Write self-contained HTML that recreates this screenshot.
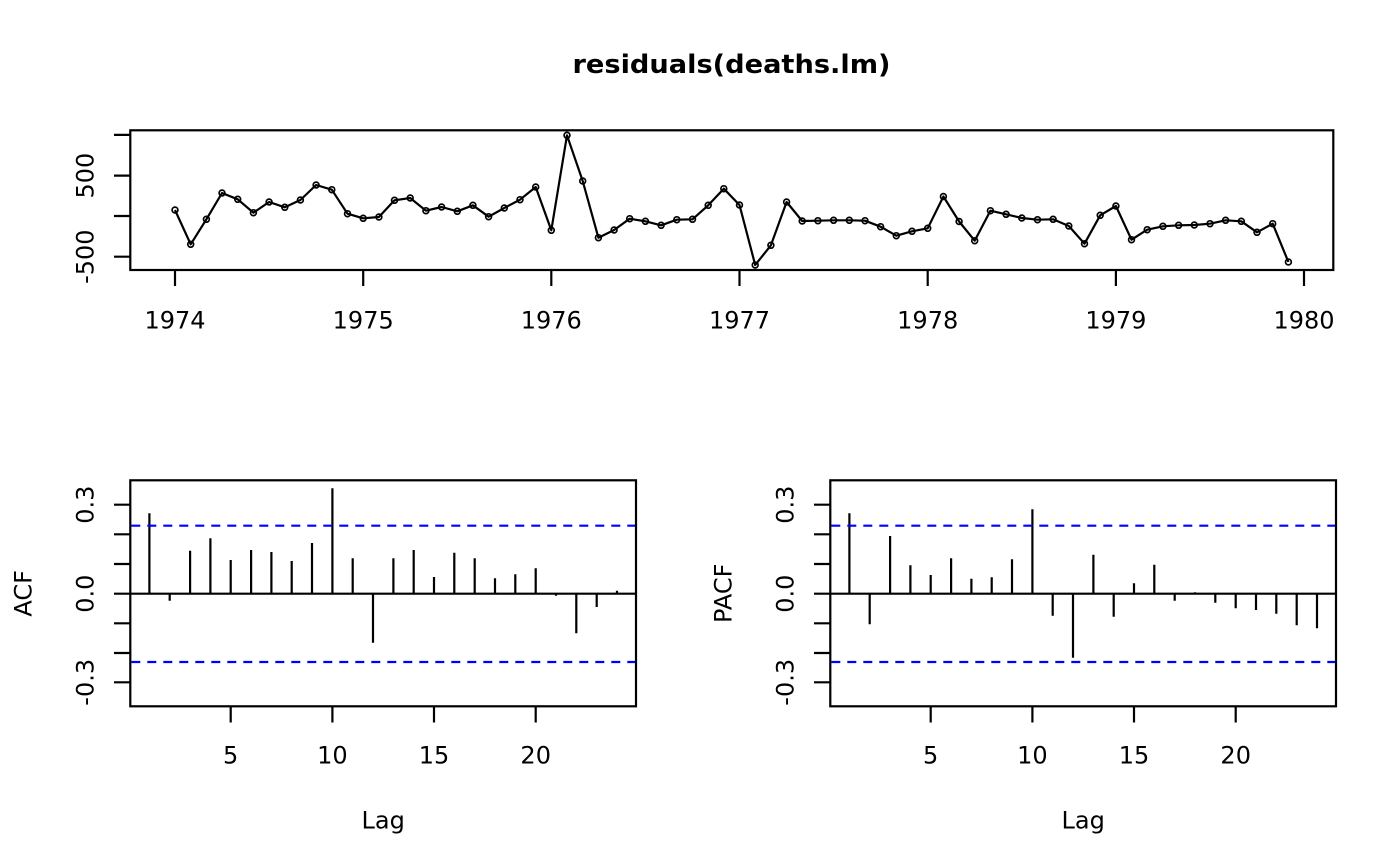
<!DOCTYPE html>
<html><head><meta charset="utf-8"><style>
html,body{margin:0;padding:0;background:#fff;}
svg{display:block;}
text{font-family:"DejaVu Sans","Liberation Sans",sans-serif;font-size:24px;fill:#000;}
</style></head><body>
<svg width="1400" height="866" viewBox="0 0 1400 866" xmlns="http://www.w3.org/2000/svg">
<rect width="1400" height="866" fill="#fff"/>
<text x="731.5" y="73" text-anchor="middle" style="font-weight:bold;font-size:26px" textLength="318" lengthAdjust="spacingAndGlyphs">residuals(deaths.lm)</text>

<g stroke="#000" stroke-width="2.2" fill="none">
<rect x="130.3" y="130.3" width="1203" height="139.7"/>
<line x1="114" y1="256.7" x2="130.3" y2="256.7"/>
<line x1="114" y1="216" x2="130.3" y2="216"/>
<line x1="114" y1="175.6" x2="130.3" y2="175.6"/>
<line x1="114" y1="134.9" x2="130.3" y2="134.9"/>
<line x1="175" y1="270" x2="175" y2="286"/>
<line x1="363.2" y1="270" x2="363.2" y2="286"/>
<line x1="551.3" y1="270" x2="551.3" y2="286"/>
<line x1="739.5" y1="270" x2="739.5" y2="286"/>
<line x1="927.7" y1="270" x2="927.7" y2="286"/>
<line x1="1115.9" y1="270" x2="1115.9" y2="286"/>
<line x1="1304" y1="270" x2="1304" y2="286"/>
<polyline stroke-linejoin="round" points="175.0,210 190.7,244.3 206.4,219.3 222.0,193 237.7,199.3 253.4,212.7 269.1,202 284.8,207.3 300.4,200 316.1,185 331.8,189.7 347.5,213.7 363.2,218.3 378.9,217 394.5,200.3 410.2,198 425.9,210.7 441.6,207 457.3,211.3 472.9,205.3 488.6,216.7 504.3,208 520.0,199.7 535.7,187 551.3,230.3 567.0,135.3 582.7,181 598.4,237.7 614.1,230 629.7,218.7 645.4,221.3 661.1,225.3 676.8,219.7 692.5,219.3 708.2,205.3 723.8,188.7 739.5,205 755.2,265 770.9,245.3 786.6,202 802.2,221 817.9,220.7 833.6,220.3 849.3,220.3 865.0,220.7 880.6,226.7 896.3,235.7 912.0,231.3 927.7,228.3 943.4,196.5 959.1,221.5 974.7,240.7 990.4,210.7 1006.1,214.3 1021.8,218 1037.5,219.7 1053.1,219.3 1068.8,226 1084.5,243.7 1100.2,215.3 1115.9,206 1131.5,239.7 1147.2,229.7 1162.9,226.3 1178.6,225.3 1194.3,225 1210.0,223.7 1225.6,220.3 1241.3,221.3 1257.0,232.3 1272.7,223.7 1288.4,262"/>
</g>
<g stroke="#000" stroke-width="1.7" fill="none">
<circle cx="175.0" cy="210" r="2.9"/><circle cx="190.7" cy="244.3" r="2.9"/><circle cx="206.4" cy="219.3" r="2.9"/><circle cx="222.0" cy="193" r="2.9"/><circle cx="237.7" cy="199.3" r="2.9"/><circle cx="253.4" cy="212.7" r="2.9"/><circle cx="269.1" cy="202" r="2.9"/><circle cx="284.8" cy="207.3" r="2.9"/><circle cx="300.4" cy="200" r="2.9"/><circle cx="316.1" cy="185" r="2.9"/><circle cx="331.8" cy="189.7" r="2.9"/><circle cx="347.5" cy="213.7" r="2.9"/>
<circle cx="363.2" cy="218.3" r="2.9"/><circle cx="378.9" cy="217" r="2.9"/><circle cx="394.5" cy="200.3" r="2.9"/><circle cx="410.2" cy="198" r="2.9"/><circle cx="425.9" cy="210.7" r="2.9"/><circle cx="441.6" cy="207" r="2.9"/><circle cx="457.3" cy="211.3" r="2.9"/><circle cx="472.9" cy="205.3" r="2.9"/><circle cx="488.6" cy="216.7" r="2.9"/><circle cx="504.3" cy="208" r="2.9"/><circle cx="520.0" cy="199.7" r="2.9"/><circle cx="535.7" cy="187" r="2.9"/>
<circle cx="551.3" cy="230.3" r="2.9"/><circle cx="567.0" cy="135.3" r="2.9"/><circle cx="582.7" cy="181" r="2.9"/><circle cx="598.4" cy="237.7" r="2.9"/><circle cx="614.1" cy="230" r="2.9"/><circle cx="629.7" cy="218.7" r="2.9"/><circle cx="645.4" cy="221.3" r="2.9"/><circle cx="661.1" cy="225.3" r="2.9"/><circle cx="676.8" cy="219.7" r="2.9"/><circle cx="692.5" cy="219.3" r="2.9"/><circle cx="708.2" cy="205.3" r="2.9"/><circle cx="723.8" cy="188.7" r="2.9"/>
<circle cx="739.5" cy="205" r="2.9"/><circle cx="755.2" cy="265" r="2.9"/><circle cx="770.9" cy="245.3" r="2.9"/><circle cx="786.6" cy="202" r="2.9"/><circle cx="802.2" cy="221" r="2.9"/><circle cx="817.9" cy="220.7" r="2.9"/><circle cx="833.6" cy="220.3" r="2.9"/><circle cx="849.3" cy="220.3" r="2.9"/><circle cx="865.0" cy="220.7" r="2.9"/><circle cx="880.6" cy="226.7" r="2.9"/><circle cx="896.3" cy="235.7" r="2.9"/><circle cx="912.0" cy="231.3" r="2.9"/>
<circle cx="927.7" cy="228.3" r="2.9"/><circle cx="943.4" cy="196.5" r="2.9"/><circle cx="959.1" cy="221.5" r="2.9"/><circle cx="974.7" cy="240.7" r="2.9"/><circle cx="990.4" cy="210.7" r="2.9"/><circle cx="1006.1" cy="214.3" r="2.9"/><circle cx="1021.8" cy="218" r="2.9"/><circle cx="1037.5" cy="219.7" r="2.9"/><circle cx="1053.1" cy="219.3" r="2.9"/><circle cx="1068.8" cy="226" r="2.9"/><circle cx="1084.5" cy="243.7" r="2.9"/><circle cx="1100.2" cy="215.3" r="2.9"/>
<circle cx="1115.9" cy="206" r="2.9"/><circle cx="1131.5" cy="239.7" r="2.9"/><circle cx="1147.2" cy="229.7" r="2.9"/><circle cx="1162.9" cy="226.3" r="2.9"/><circle cx="1178.6" cy="225.3" r="2.9"/><circle cx="1194.3" cy="225" r="2.9"/><circle cx="1210.0" cy="223.7" r="2.9"/><circle cx="1225.6" cy="220.3" r="2.9"/><circle cx="1241.3" cy="221.3" r="2.9"/><circle cx="1257.0" cy="232.3" r="2.9"/><circle cx="1272.7" cy="223.7" r="2.9"/><circle cx="1288.4" cy="262" r="2.9"/>
</g>
<text transform="translate(93.3,256.7) rotate(-90)" text-anchor="middle">-500</text>
<text transform="translate(93.3,175.6) rotate(-90)" text-anchor="middle">500</text>
<g text-anchor="middle">
<text x="175" y="328.3">1974</text>
<text x="363.2" y="328.3">1975</text>
<text x="551.3" y="328.3">1976</text>
<text x="739.5" y="328.3">1977</text>
<text x="927.7" y="328.3">1978</text>
<text x="1115.9" y="328.3">1979</text>
<text x="1304" y="328.3">1980</text>
</g>

<g stroke="#000" stroke-width="2.2" fill="none">
<rect x="130.3" y="480.3" width="505.7" height="226"/>
<line x1="114" y1="504.7" x2="130.3" y2="504.7"/>
<line x1="114" y1="534.3" x2="130.3" y2="534.3"/>
<line x1="114" y1="564" x2="130.3" y2="564"/>
<line x1="114" y1="593.7" x2="130.3" y2="593.7"/>
<line x1="114" y1="623.3" x2="130.3" y2="623.3"/>
<line x1="114" y1="653" x2="130.3" y2="653"/>
<line x1="114" y1="682.3" x2="130.3" y2="682.3"/>
<line x1="230.7" y1="706.3" x2="230.7" y2="722.5"/>
<line x1="332.4" y1="706.3" x2="332.4" y2="722.5"/>
<line x1="434.0" y1="706.3" x2="434.0" y2="722.5"/>
<line x1="535.7" y1="706.3" x2="535.7" y2="722.5"/>
<line x1="130.3" y1="593.7" x2="636" y2="593.7"/>
<path d="M149.4 593.7V513.3M169.7 593.7V600.7M190.1 593.7V550.7M210.4 593.7V538.3M230.7 593.7V560M251.1 593.7V550M271.4 593.7V552M291.7 593.7V561M312.0 593.7V543M332.4 593.7V488.3M352.7 593.7V558.3M373.0 593.7V642.7M393.4 593.7V558.3M413.7 593.7V550M434.0 593.7V577M454.3 593.7V552.7M474.7 593.7V558.3M495.0 593.7V578.3M515.3 593.7V574.3M535.7 593.7V568.3M556.0 593.7V595.7M576.3 593.7V633.3M596.7 593.7V607M617.0 593.7V590.7"/>
</g>
<g stroke="#0000ff" stroke-width="2.2" stroke-dasharray="9,7" fill="none">
<line x1="131.3" y1="525.7" x2="635" y2="525.7"/>
<line x1="131.3" y1="662" x2="635" y2="662"/>
</g>
<text transform="translate(93.3,504.7) rotate(-90)" text-anchor="middle">0.3</text>
<text transform="translate(93.3,593.7) rotate(-90)" text-anchor="middle">0.0</text>
<text transform="translate(93.3,682.3) rotate(-90)" text-anchor="middle">-0.3</text>
<text transform="translate(31.7,593.3) rotate(-90)" text-anchor="middle">ACF</text>
<g text-anchor="middle">
<text x="230.7" y="763.3">5</text>
<text x="332.4" y="763.3">10</text>
<text x="434.0" y="763.3">15</text>
<text x="535.7" y="763.3">20</text>
<text x="383.2" y="828.3">Lag</text>
</g>

<g transform="translate(700,0)">
<g stroke="#000" stroke-width="2.2" fill="none">
<rect x="130.3" y="480.3" width="505.7" height="226"/>
<line x1="114" y1="504.7" x2="130.3" y2="504.7"/>
<line x1="114" y1="534.3" x2="130.3" y2="534.3"/>
<line x1="114" y1="564" x2="130.3" y2="564"/>
<line x1="114" y1="593.7" x2="130.3" y2="593.7"/>
<line x1="114" y1="623.3" x2="130.3" y2="623.3"/>
<line x1="114" y1="653" x2="130.3" y2="653"/>
<line x1="114" y1="682.3" x2="130.3" y2="682.3"/>
<line x1="230.7" y1="706.3" x2="230.7" y2="722.5"/>
<line x1="332.4" y1="706.3" x2="332.4" y2="722.5"/>
<line x1="434.0" y1="706.3" x2="434.0" y2="722.5"/>
<line x1="535.7" y1="706.3" x2="535.7" y2="722.5"/>
<line x1="130.3" y1="593.7" x2="636" y2="593.7"/>
<path d="M149.4 593.7V513.3M169.7 593.7V624.3M190.1 593.7V536M210.4 593.7V565.3M230.7 593.7V575M251.1 593.7V558.3M271.4 593.7V578.7M291.7 593.7V577.3M312.0 593.7V559.3M332.4 593.7V509.3M352.7 593.7V615.7M373.0 593.7V657.7M393.4 593.7V554.7M413.7 593.7V616.7M434.0 593.7V583.3M454.3 593.7V564.7M474.7 593.7V600.7M495.0 593.7V592.3M515.3 593.7V602.7M535.7 593.7V608.3M556.0 593.7V610M576.3 593.7V613.7M596.7 593.7V625.3M617.0 593.7V628.3"/>
</g>
<g stroke="#0000ff" stroke-width="2.2" stroke-dasharray="9,7" fill="none">
<line x1="131.3" y1="525.7" x2="635" y2="525.7"/>
<line x1="131.3" y1="662" x2="635" y2="662"/>
</g>
<text transform="translate(93.3,504.7) rotate(-90)" text-anchor="middle">0.3</text>
<text transform="translate(93.3,593.7) rotate(-90)" text-anchor="middle">0.0</text>
<text transform="translate(93.3,682.3) rotate(-90)" text-anchor="middle">-0.3</text>
<text transform="translate(31.7,593.3) rotate(-90)" text-anchor="middle">PACF</text>
<g text-anchor="middle">
<text x="230.7" y="763.3">5</text>
<text x="332.4" y="763.3">10</text>
<text x="434.0" y="763.3">15</text>
<text x="535.7" y="763.3">20</text>
<text x="383.2" y="828.3">Lag</text>
</g>
</g>
</svg>
</body></html>
